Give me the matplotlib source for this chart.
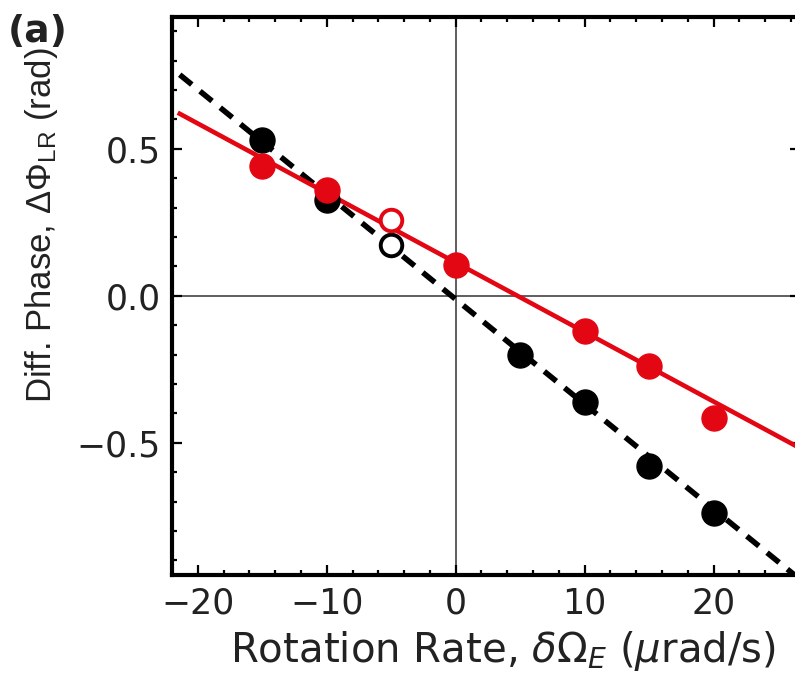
import matplotlib.pyplot as plt
from matplotlib.ticker import MultipleLocator, FuncFormatter
import numpy as np

plt.rcParams['font.family'] = ['DejaVu Sans']
plt.rcParams['mathtext.fontset'] = 'custom'
plt.rcParams['mathtext.rm'] = 'Liberation Sans'
plt.rcParams['mathtext.it'] = 'Liberation Sans:italic'
plt.rcParams['mathtext.bf'] = 'Liberation Sans:bold'

# black series (filled + open point)
black_x = [-15, -10, 5, 10, 15, 20]
black_y = [0.531, 0.327, -0.20, -0.36, -0.58, -0.739]
black_open_x = [-5]
black_open_y = [0.173]

# red series (filled + open point)
red_x = [-15, -10, 0, 10, 15, 20]
red_y = [0.44, 0.361, 0.105, -0.121, -0.240, -0.416]
red_open_x = [-5]
red_open_y = [0.259]

# fitted lines: y = slope * x + intercept
black_fit = (-0.0357, -0.012)
red_fit = (-0.02365, 0.113)

red = '#e30613'
txt = '#222222'

fig = plt.figure(figsize=(7.95, 6.84), dpi=100)
ax = fig.add_axes([172 / 795, 1 - 575 / 684, (800 - 172) / 795, (575 - 16.5) / 684])

ax.set_xlim(-22.0, 26.7)
ax.set_ylim(-0.95, 0.95)

# zero lines
ax.axhline(0, color='#333333', lw=1.1, zorder=1)
ax.axvline(0, color='#333333', lw=1.1, zorder=1)

xf = np.array([-21.4, 27.0])
ax.plot(xf, black_fit[0] * xf + black_fit[1], color='black', lw=4.0,
        linestyle=(0, (2.8, 1.9)), zorder=2)
ax.plot(xf, red_fit[0] * xf + red_fit[1], color=red, lw=3.3, zorder=2)

ms = 18
ax.plot(black_x, black_y, 'o', color='black', ms=ms, zorder=3)
ax.plot(black_open_x, black_open_y, 'o', mfc='white', mec='black', mew=2.8, ms=ms - 2.5, zorder=3)
ax.plot(red_x, red_y, 'o', color=red, ms=ms, zorder=4)
ax.plot(red_open_x, red_open_y, 'o', mfc='white', mec=red, mew=2.8, ms=ms - 2.5, zorder=4)

for s in ax.spines.values():
    s.set_linewidth(3.0)

ax.xaxis.set_major_locator(MultipleLocator(10))
ax.xaxis.set_minor_locator(MultipleLocator(2))
ax.yaxis.set_major_locator(MultipleLocator(0.5))
ax.yaxis.set_minor_locator(MultipleLocator(0.1))
ax.yaxis.set_major_formatter(FuncFormatter(lambda v, p: f'{v:.1f}'.replace('-', '\u2212')))
ax.tick_params(which='both', direction='in', top=True, right=True, width=1.6)
ax.tick_params(which='major', length=7.5, labelsize=25, pad=8, labelcolor=txt)
ax.tick_params(which='minor', length=3.5)

fig.text(503 / 795, 1 - 651 / 684, r'Rotation Rate, $\delta\Omega_{E}$ ($\mu$rad/s)',
         fontsize=29, ha='center', va='center', color=txt, math_fontfamily='dejavusans')
fig.text(42 / 795, 1 - 225 / 684, r'Diff. Phase, $\Delta\Phi_{\mathrm{LR}}$ (rad)',
         fontsize=25, ha='center', va='center', rotation=90, color=txt,
         family='Liberation Sans')
fig.text(8 / 795, 1 - 32 / 684, '(a)', fontsize=27, fontweight='bold',
         ha='left', va='center', color=txt)

fig.savefig('out.png', dpi=100)
